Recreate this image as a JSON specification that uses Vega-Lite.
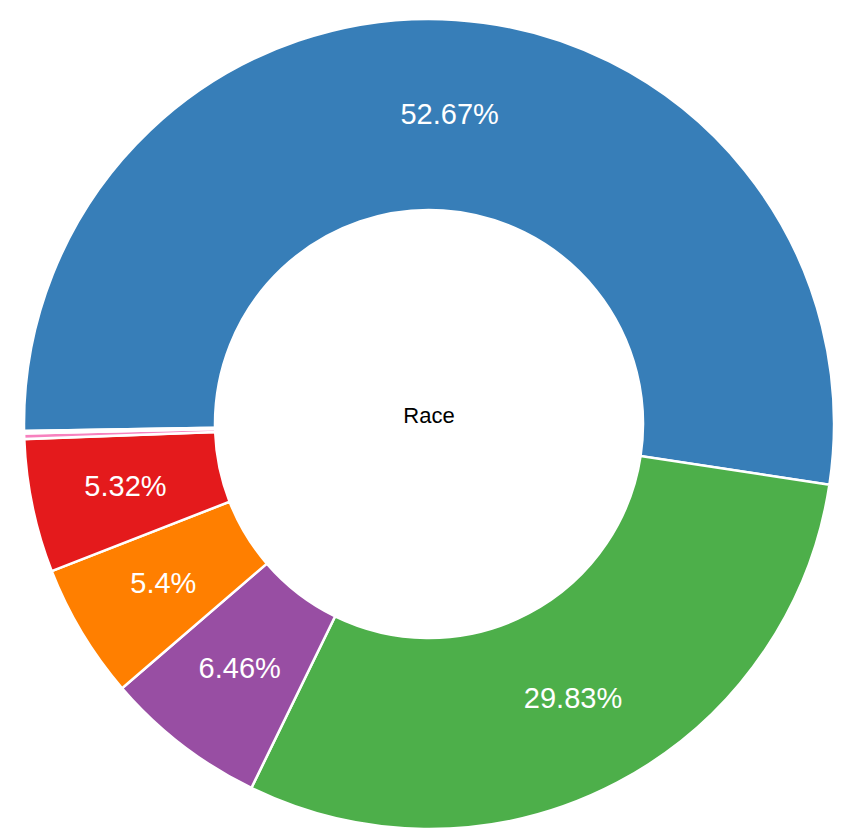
{
  "$schema": "https://vega.github.io/schema/vega-lite/v6.json",
  "autosize": "none",
  "width": 828,
  "height": 832,
  "padding": {"left": 15, "top": 8, "right": 0, "bottom": 0},
  "background": "white",
  "config": {"view": {"stroke": null}},
  "layer": [
    {
      "data": {"name": "race"},
      "mark": {"type": "arc", "innerRadius": 214, "outerRadius": 405, "stroke": "white", "strokeWidth": 2.5},
      "encoding": {
        "theta": {"field": "share", "type": "quantitative", "stack": true, "scale": {"range": [-1.588, 4.6952]}},
        "order": {"field": "share", "sort": "descending"},
        "color": {
          "field": "race", "type": "nominal", "legend": null,
          "scale": {
            "domain": ["White", "Black", "Hispanic", "Asian", "Other", "Native American", "Pacific Islander"],
            "range": ["#377eb8", "#4daf4a", "#984ea3", "#ff7f00", "#e41a1c", "#f781bf", "#d9e6ef"]
          }
        }
      }
    },
    {
      "data": {"name": "race"},
      "mark": {"type": "text", "radius": 310, "fill": "white", "fontSize": 29, "font": "Liberation Sans"},
      "encoding": {
        "theta": {"field": "share", "type": "quantitative", "stack": true},
        "order": {"field": "share", "sort": "descending"},
        "text": {"field": "share", "type": "quantitative", "format": ".2~%"},
        "opacity": {"condition": {"test": "datum.share < 0.01", "value": 0}, "value": 1}
      }
    },
    {
      "data": {"values": [{"title": "Race"}]},
      "mark": {"type": "text", "fontSize": 22, "font": "Liberation Sans", "fill": "#000000", "dy": -8},
      "encoding": {"text": {"field": "title", "type": "nominal"}}
    }
  ],
  "datasets": {
    "race": [
      {"race": "White", "share": 0.5267},
      {"race": "Black", "share": 0.2983},
      {"race": "Hispanic", "share": 0.0646},
      {"race": "Asian", "share": 0.054},
      {"race": "Other", "share": 0.0532},
      {"race": "Native American", "share": 0.0022},
      {"race": "Pacific Islander", "share": 0.001}
    ]
  }
}
